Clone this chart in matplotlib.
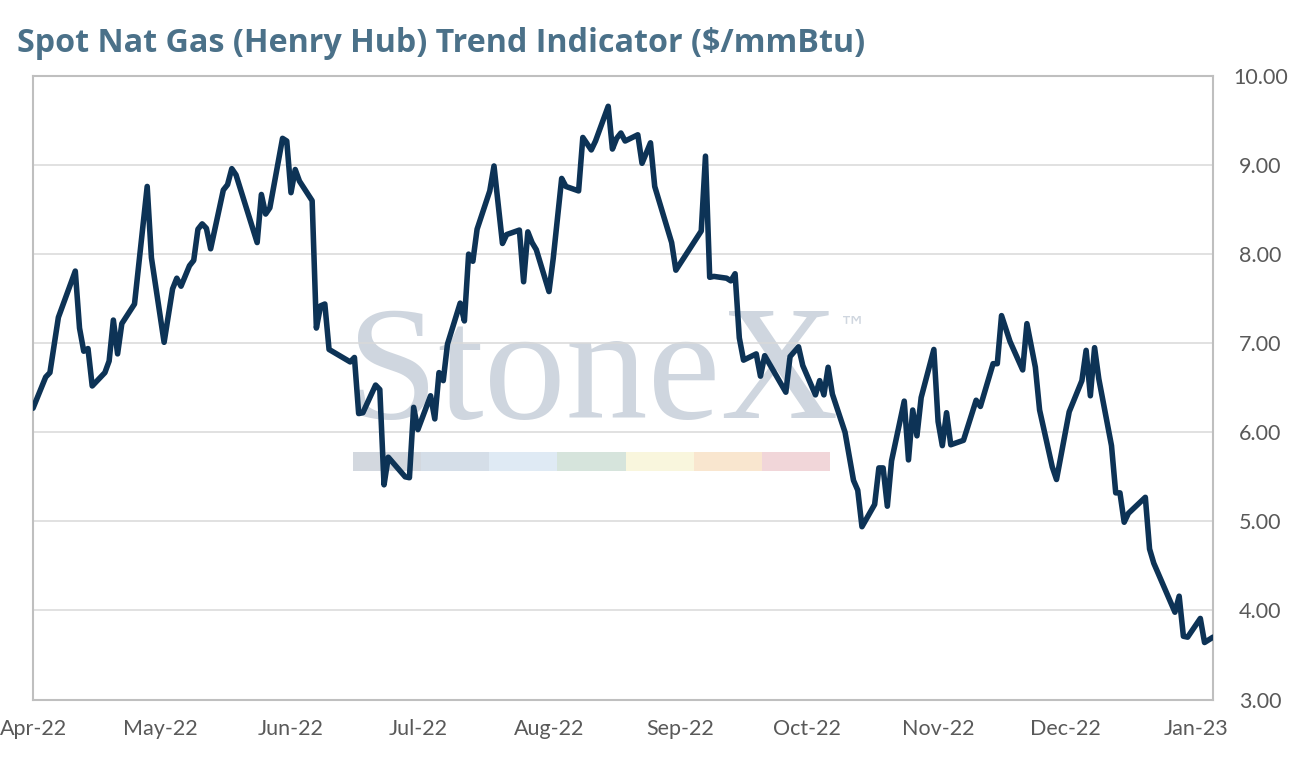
import matplotlib
matplotlib.use("Agg")
import matplotlib.pyplot as plt
import matplotlib.dates as mdates
from matplotlib.patches import Rectangle
import pandas as pd

# ---------------- data ----------------
dates = [
    "2022-04-01", "2022-04-04", "2022-04-05", "2022-04-07", "2022-04-11", "2022-04-12",
    "2022-04-13", "2022-04-14", "2022-04-15", "2022-04-18", "2022-04-19", "2022-04-20",
    "2022-04-21", "2022-04-22", "2022-04-25", "2022-04-28", "2022-04-29", "2022-05-02",
    "2022-05-04", "2022-05-05", "2022-05-06", "2022-05-08", "2022-05-09", "2022-05-10",
    "2022-05-11", "2022-05-12", "2022-05-13", "2022-05-16", "2022-05-17", "2022-05-18",
    "2022-05-19", "2022-05-24", "2022-05-25", "2022-05-26", "2022-05-27", "2022-05-30",
    "2022-05-31", "2022-06-01", "2022-06-02", "2022-06-03", "2022-06-06", "2022-06-07",
    "2022-06-08", "2022-06-09", "2022-06-10", "2022-06-15", "2022-06-16", "2022-06-17",
    "2022-06-18", "2022-06-21", "2022-06-22", "2022-06-23", "2022-06-24", "2022-06-28",
    "2022-06-29", "2022-06-30", "2022-07-01", "2022-07-04", "2022-07-05", "2022-07-06",
    "2022-07-07", "2022-07-08", "2022-07-11", "2022-07-12", "2022-07-13", "2022-07-14",
    "2022-07-15", "2022-07-18", "2022-07-19", "2022-07-21", "2022-07-22", "2022-07-25",
    "2022-07-26", "2022-07-27", "2022-07-28", "2022-07-29", "2022-08-01", "2022-08-02",
    "2022-08-04", "2022-08-05", "2022-08-08", "2022-08-09", "2022-08-11", "2022-08-12",
    "2022-08-15", "2022-08-16", "2022-08-17", "2022-08-18", "2022-08-19", "2022-08-22",
    "2022-08-23", "2022-08-25", "2022-08-26", "2022-08-30", "2022-08-31", "2022-09-06",
    "2022-09-07", "2022-09-08", "2022-09-09", "2022-09-12", "2022-09-13", "2022-09-14",
    "2022-09-15", "2022-09-16", "2022-09-19", "2022-09-20", "2022-09-21", "2022-09-26",
    "2022-09-27", "2022-09-29", "2022-09-30", "2022-10-03", "2022-10-04", "2022-10-05",
    "2022-10-06", "2022-10-07", "2022-10-10", "2022-10-12", "2022-10-13", "2022-10-14",
    "2022-10-17", "2022-10-18", "2022-10-19", "2022-10-20", "2022-10-21", "2022-10-24",
    "2022-10-25", "2022-10-26", "2022-10-27", "2022-10-28", "2022-10-31", "2022-11-01",
    "2022-11-02", "2022-11-03", "2022-11-04", "2022-11-07", "2022-11-10", "2022-11-11",
    "2022-11-14", "2022-11-15", "2022-11-16", "2022-11-18", "2022-11-21", "2022-11-22",
    "2022-11-24", "2022-11-25", "2022-11-28", "2022-11-29", "2022-12-02", "2022-12-05",
    "2022-12-06", "2022-12-07", "2022-12-08", "2022-12-09", "2022-12-12", "2022-12-13",
    "2022-12-14", "2022-12-15", "2022-12-16", "2022-12-20", "2022-12-21", "2022-12-22",
    "2022-12-27", "2022-12-28", "2022-12-29", "2022-12-30", "2023-01-02", "2023-01-03",
    "2023-01-05",
]
prices = [
    6.27, 6.62, 6.67, 7.29, 7.81, 7.17,
    6.91, 6.94, 6.52, 6.67, 6.80, 7.26,
    6.88, 7.22, 7.44, 8.76, 7.96, 7.01,
    7.61, 7.73, 7.64, 7.87, 7.93, 8.28,
    8.34, 8.29, 8.06, 8.72, 8.78, 8.96,
    8.89, 8.13, 8.67, 8.45, 8.52, 9.30,
    9.27, 8.69, 8.95, 8.82, 8.60, 7.17,
    7.42, 7.44, 6.93, 6.79, 6.84, 6.21,
    6.22, 6.53, 6.48, 5.41, 5.72, 5.50,
    5.49, 6.28, 6.03, 6.41, 6.15, 6.67,
    6.58, 6.99, 7.45, 7.25, 8.00, 7.92,
    8.28, 8.71, 8.99, 8.12, 8.22, 8.27,
    7.69, 8.25, 8.13, 8.05, 7.58, 7.95,
    8.85, 8.76, 8.71, 9.31, 9.17, 9.27,
    9.66, 9.18, 9.30, 9.36, 9.27, 9.34,
    9.02, 9.25, 8.76, 8.13, 7.82, 8.26,
    9.10, 7.74, 7.75, 7.73, 7.70, 7.78,
    7.06, 6.81, 6.88, 6.63, 6.86, 6.45,
    6.85, 6.96, 6.75, 6.42, 6.58, 6.42,
    6.73, 6.43, 6.00, 5.46, 5.35, 4.94,
    5.19, 5.60, 5.60, 5.17, 5.68, 6.35,
    5.69, 6.25, 5.96, 6.39, 6.93, 6.12,
    5.85, 6.22, 5.86, 5.91, 6.36, 6.29,
    6.77, 6.77, 7.31, 7.02, 6.70, 7.22,
    6.73, 6.25, 5.61, 5.47, 6.23, 6.58,
    6.92, 6.41, 6.95, 6.60, 5.85, 5.32,
    5.32, 4.99, 5.09, 5.27, 4.69, 4.53,
    3.98, 4.16, 3.71, 3.70, 3.91, 3.64,
    3.70,
]
month_ticks = ["2022-04-01", "2022-05-01", "2022-06-01", "2022-07-01", "2022-08-01",
               "2022-09-01", "2022-10-01", "2022-11-01", "2022-12-01", "2023-01-01"]
y_ticks = [3, 4, 5, 6, 7, 8, 9, 10]
title = "Spot Nat Gas (Henry Hub) Trend Indicator ($/mmBtu)"
band_colors = ["#d3d8df", "#d5dee8", "#dfeaf4", "#d6e4dc", "#f9f6dd", "#f9e6cf", "#f1d6d9"]

# ---------------- figure ----------------
W, H = 1291, 761
fig = plt.figure(figsize=(W / 100, H / 100), dpi=100)
fig.patch.set_facecolor("white")

left_px, right_px, top_px, bottom_px = 33, 1213, 76, 699.5
ax = fig.add_axes([left_px / W, (H - bottom_px) / H,
                   (right_px - left_px) / W, (bottom_px - top_px) / H])

x = pd.to_datetime(dates)
ax.plot(x, prices, color="#0d3356", linewidth=4.0,
        solid_joinstyle="round", solid_capstyle="round", zorder=3)

ax.set_xlim(pd.Timestamp("2022-04-01"), pd.Timestamp("2023-01-05"))
ax.set_ylim(3, 10)

ax.set_xticks(pd.to_datetime(month_ticks))
ax.xaxis.set_major_formatter(mdates.DateFormatter("%b-%y"))
ax.set_yticks(y_ticks)
ax.set_yticklabels([f"{v:.2f}" for v in y_ticks])
ax.yaxis.tick_right()

label_font = "Lato"
ax.tick_params(axis="both", length=0, colors="#595959", labelsize=15.5)
ax.tick_params(axis="x", pad=14)
ax.tick_params(axis="y", pad=34)
for lab in ax.get_xticklabels() + ax.get_yticklabels():
    lab.set_fontfamily(label_font)
for lab in ax.get_yticklabels():
    lab.set_horizontalalignment("center")

ax.grid(axis="y", color="#d9d9d9", linewidth=1.1)
ax.set_axisbelow(True)
for s in ax.spines.values():
    s.set_color("#bfbfbf")
    s.set_linewidth(1.5)

# watermark
wm_color = "#cfd6df"
ax.text(0.2665, 0.4515, "StoneX", transform=ax.transAxes, fontsize=118,
        family="Liberation Serif", color=wm_color, ha="left", va="baseline",
        zorder=0.2)
ax.text(0.683, 0.598, "\u2122", transform=ax.transAxes, fontsize=20,
        family="DejaVu Sans", color=wm_color, ha="left", va="center", zorder=0.2)
x0, seg_w = 0.2712, 0.05775
for i, c in enumerate(band_colors):
    ax.add_patch(Rectangle((x0 + i * seg_w, 0.3665), seg_w, 0.0305,
                           transform=ax.transAxes, facecolor=c,
                           edgecolor="none", zorder=0.2))

fig.text(17 / W, (H - 52) / H, title, fontsize=23.2, fontweight="bold",
         family="Open Sans", color="#4b7189", ha="left", va="baseline")

fig.savefig("out.png", dpi=100, facecolor="white")
